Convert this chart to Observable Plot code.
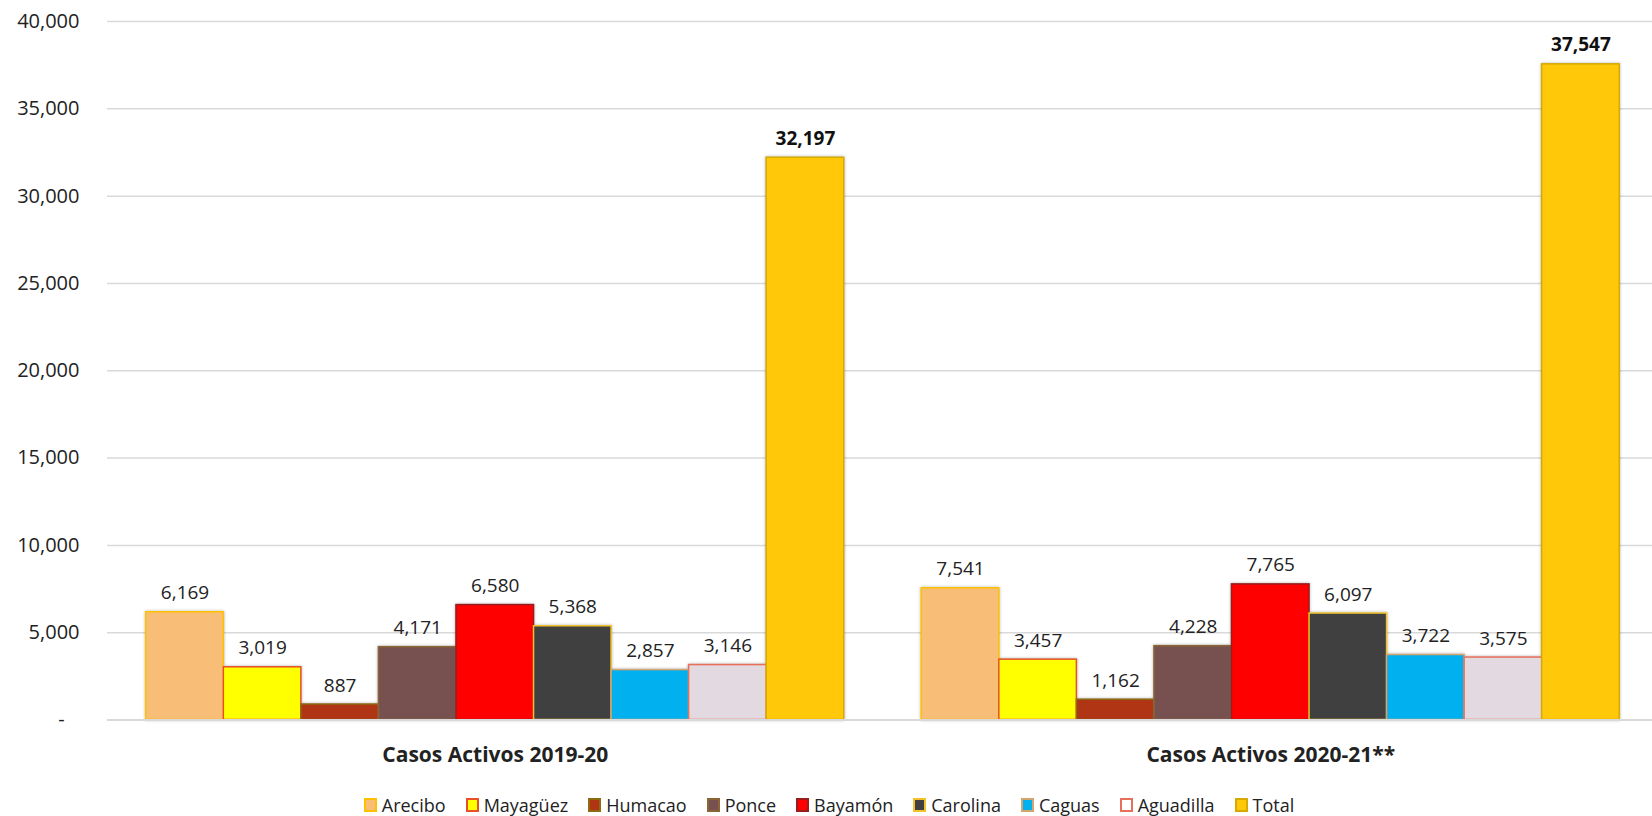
<!DOCTYPE html>
<html>
<head>
<meta charset="utf-8">
<script src="https://cdn.jsdelivr.net/npm/d3@7"></script>
<script src="https://cdn.jsdelivr.net/npm/@observablehq/plot@0.6"></script>
<style>
  html, body { margin: 0; padding: 0; background: #fff; overflow: hidden; }
  body { font-family: "Open Sans", "Noto Sans", sans-serif; width: 1652px; height: 816px; }
  #legend { width: 1658px; margin-top: 10px; height: 30px; display: flex; justify-content: center; align-items: center; font-size: 18px; color: #222; }
  .item { display: flex; align-items: center; margin: 0 10px; }
  .sw { width: 9px; height: 10px; border: 2px solid; margin-right: 5px; }
</style>
</head>
<body>
<div id="chart"></div>
<div id="legend"></div>
<script>
const groups = ["Casos Activos 2019-20", "Casos Activos 2020-21**"];
const regions = ["Arecibo", "Mayagüez", "Humacao", "Ponce", "Bayamón", "Carolina", "Caguas", "Aguadilla", "Total"];
const casos2019 = [6169, 3019, 887, 4171, 6580, 5368, 2857, 3146, 32197];
const casos2020 = [7541, 3457, 1162, 4228, 7765, 6097, 3722, 3575, 37547];
const fillColors = ["#F8BD77", "#FFFF00", "#B03515", "#775150", "#FF0000", "#404040", "#00B0EF", "#E3D9E1", "#FFC90A"];
const strokeColors = ["#FFC000", "#E8502A", "#8E6A10", "#8B6536", "#9A1C1C", "#F2C228", "#D2A470", "#E8705A", "#D6AA00"];
const yTicks = [0, 5000, 10000, 15000, 20000, 25000, 30000, 35000, 40000];

const seriesValues = [casos2019, casos2020];
const fillOf = Object.fromEntries(regions.map((r, i) => [r, fillColors[i]]));
const strokeOf = Object.fromEntries(regions.map((r, i) => [r, strokeColors[i]]));

const rows = [];
groups.forEach((g, gi) => regions.forEach((r, ri) => rows.push({group: g, region: r, key: g + "|" + r, value: seriesValues[gi][ri]})));

const xDomain = [
  ...regions.map(r => groups[0] + "|" + r),
  "gap",
  ...regions.map(r => groups[1] + "|" + r)
];
const midKeys = groups.map(g => g + "|" + regions[Math.floor(regions.length / 2)]);
const fmt = d3.format(",");

const chart = Plot.plot({
  width: 1652,
  height: 780,
  marginTop: 21,
  marginBottom: 60.5,
  marginLeft: 107,
  marginRight: -6,
  style: {fontFamily: "'Open Sans', 'Noto Sans', sans-serif", color: "#222", background: "#fff"},
  x: {domain: xDomain, padding: 0, paddingOuter: 0.5, round: false, axis: null},
  y: {domain: [0, 40000], axis: null},
  marks: [
    Plot.gridY(yTicks.filter(d => d > 0), {stroke: "#D9D9D9", strokeOpacity: 1, strokeWidth: 1.5}),
    Plot.barY(rows, {x: "key", y: "value", fill: d => fillOf[d.region], stroke: d => strokeOf[d.region], strokeWidth: 1.5}),
    Plot.ruleY([0], {stroke: "#D9D9D9", strokeWidth: 2}),
    Plot.axisY(yTicks, {anchor: "left", tickSize: 0, tickPadding: 28, fontSize: 20, label: null,
      tickFormat: d => d === 0 ? "-\u2007\u2009" : fmt(d)}),
    Plot.axisX(midKeys, {anchor: "bottom", tickSize: 0, tickPadding: 27, fontSize: 21, fontWeight: "bold", label: null,
      tickFormat: k => k.split("|")[0]}),
    Plot.text(rows.filter(d => d.region !== "Total"), {x: "key", y: "value", text: d => fmt(d.value), dy: -13, lineAnchor: "bottom", fontSize: 19, fill: "#222"}),
    Plot.text(rows.filter(d => d.region === "Total"), {x: "key", y: "value", text: d => fmt(d.value), dy: -13, lineAnchor: "bottom", fontSize: 19, fontWeight: "bold", fill: "#111"})
  ]
});
document.getElementById("chart").appendChild(chart);
const barG = chart.querySelector('g[aria-label="bar"]');
if (barG) barG.style.filter = "drop-shadow(0px 0px 1.5px rgba(0,0,0,0.3))";

const legend = document.getElementById("legend");
regions.forEach((r, i) => {
  const item = document.createElement("div");
  item.className = "item";
  const sw = document.createElement("span");
  sw.className = "sw";
  sw.style.background = i === 7 ? "#FFFFFF" : fillColors[i];
  sw.style.borderColor = strokeColors[i];
  const t = document.createElement("span");
  t.textContent = r;
  item.appendChild(sw);
  item.appendChild(t);
  legend.appendChild(item);
});
</script>
</body>
</html>
